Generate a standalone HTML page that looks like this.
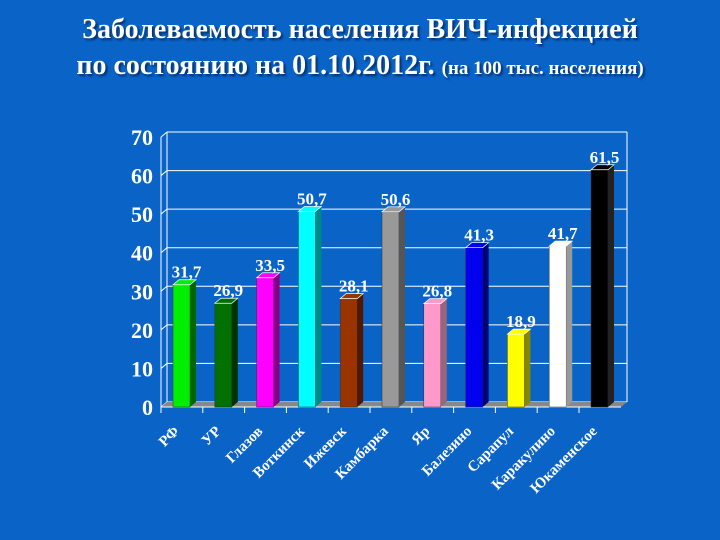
<!DOCTYPE html>
<html><head><meta charset="utf-8"><style>
body{margin:0;background:#0a64c8;}
#c{width:720px;height:540px;position:relative;background:#0a64c8;font-family:"Liberation Serif",serif;color:#fff;}
.t{position:absolute;left:0;width:720px;text-align:center;font-weight:bold;font-size:28px;text-shadow:2px 2px 2px #02306a;white-space:nowrap;}
</style></head><body>
<div id="c">
<div class="t" style="top:14px">Заболеваемость населения ВИЧ-инфекцией</div>
<div class="t" style="top:50px">по состоянию на 01.10.2012г. <span style="font-size:19px">(на 100 тыс. населения)</span></div>
<svg id="s" width="720" height="540" style="position:absolute;left:0;top:0"></svg>
</div>
<script>
const categories=["РФ","УР","Глазов","Воткинск","Ижевск","Камбарка","Яр","Балезино","Сарапул","Каракулино","Юкаменское"];
const values=[31.7,26.9,33.5,50.7,28.1,50.6,26.8,41.3,18.9,41.7,61.5];
const valueLabels=["31,7","26,9","33,5","50,7","28,1","50,6","26,8","41,3","18,9","41,7","61,5"];
const yTicks=[0,10,20,30,40,50,60,70];
const colors=["#00ee00","#007000","#ff00ff","#00ffff","#993300","#999999","#ff99cc","#0000ee","#ffff00","#ffffff","#000000"];
const sides=["#006600","#003300","#880088","#008888","#4d1a00","#555555","#996677","#000077","#888800","#999999","#222222"];
const NS="http://www.w3.org/2000/svg";
const svg=document.getElementById('s');
const x0=161,step=41.8,y0=407,k=270/70,dx=6,dy=5;
const yS=v=>y0-v*k;
function el(t,a){const e=document.createElementNS(NS,t);for(const q in a)e.setAttribute(q,a[q]);svg.appendChild(e);return e;}
for(const v of yTicks){
 const g=el('line',{x1:x0+dx,y1:yS(v)-dy,x2:627,y2:yS(v)-dy,stroke:'#fff','stroke-width':1});
 
 
 el('line',{x1:x0,y1:yS(v),x2:x0+dx,y2:yS(v)-dy,stroke:'#fff'});
 const t=el('text',{x:153,y:yS(v)+8,'text-anchor':'end','font-size':22,'font-weight':'bold',fill:'#fff','font-family':'Liberation Serif,serif'});
 t.textContent=v;
 
 
}
el('line',{x1:x0+dx,y1:yS(70)-dy,x2:x0+dx,y2:y0-dy,stroke:'#fff'});
el('line',{x1:x0,y1:yS(70),x2:x0,y2:y0,stroke:'#fff'});
el('line',{x1:627,y1:yS(70)-dy,x2:627,y2:y0-dy,stroke:'#fff'});
el('polygon',{points:`${x0},${y0} ${x0+dx},${y0-dy} ${627},${y0-dy} ${621},${y0}`,fill:'#888'});
el('line',{x1:x0,y1:y0,x2:621,y2:y0,stroke:'#fff'});
categories.forEach((c,i)=>{
 const tx=x0+step*i;
 el('line',{x1:tx,y1:y0,x2:tx,y2:y0+6,stroke:'#fff'});
 const bx=tx+12,bw=17,top=yS(values[i]);
 const g=document.createElementNS(NS,'g');svg.appendChild(g);
 
 
 const f=document.createElementNS(NS,'rect');
 f.setAttribute('x',bx);f.setAttribute('y',top);f.setAttribute('width',bw);f.setAttribute('height',y0-top);f.setAttribute('fill',colors[i]);f.setAttribute('stroke','#333');f.setAttribute('stroke-width','0.5');g.appendChild(f);
 const sd=document.createElementNS(NS,'polygon');
 sd.setAttribute('points',`${bx+bw},${top} ${bx+bw+dx},${top-dy} ${bx+bw+dx},${y0-dy} ${bx+bw},${y0}`);sd.setAttribute('fill',sides[i]);g.appendChild(sd);
 const tp=document.createElementNS(NS,'polygon');
 tp.setAttribute('points',`${bx},${top} ${bx+dx},${top-dy} ${bx+bw+dx},${top-dy} ${bx+bw},${top}`);tp.setAttribute('fill',colors[i]);tp.setAttribute('stroke','#fff');tp.setAttribute('stroke-width','0.7');g.appendChild(tp);
 const vl=el('text',{x:bx+bw/2+5,y:top-7,'text-anchor':'middle','font-size':17,'font-weight':'bold',fill:'#fff','font-family':'Liberation Serif,serif'});
 vl.textContent=valueLabels[i];
 
 
 const cx=tx+step/2-2;
 const xl=el('text',{x:cx,y:432,'text-anchor':'end','font-size':15,'font-weight':'bold',fill:'#fff','font-family':'Liberation Serif,serif',transform:`rotate(-45 ${cx} 432)`});
 xl.textContent=c;
 
 
});
</script>
</body></html>
